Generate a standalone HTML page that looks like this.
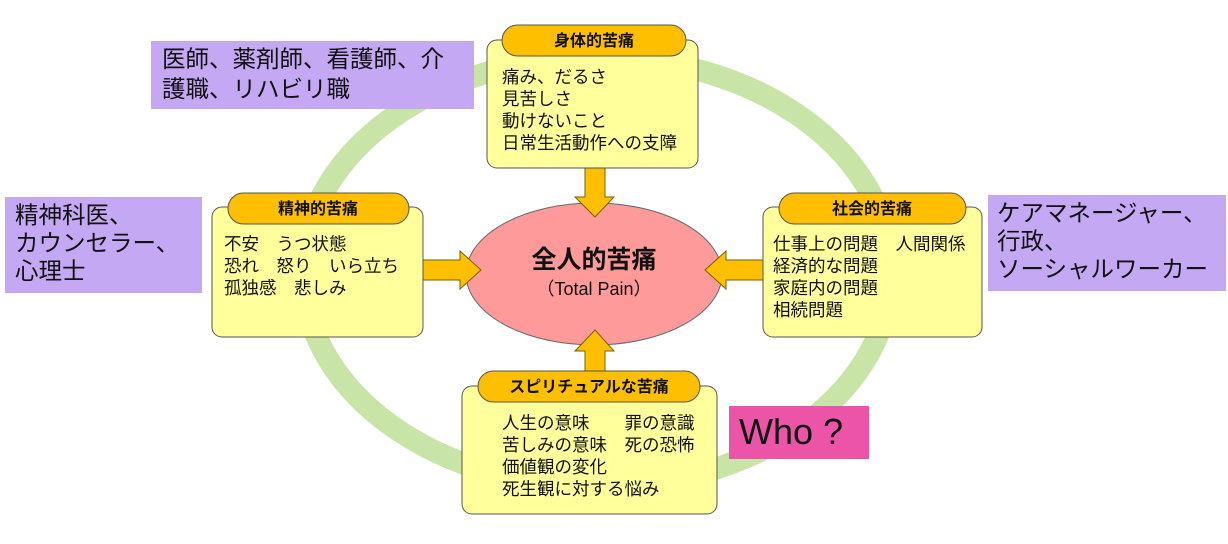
<!DOCTYPE html>
<html><head><meta charset="utf-8"><style>
html,body{margin:0;padding:0;background:#fff;}
svg{display:block;}
text{font-family:"Liberation Sans","Noto Sans CJK JP",sans-serif;fill:#111;}
.b{font-size:17.5px;}
.h{font-size:16px;font-weight:bold;}
.p{font-size:23.5px;}
</style></head><body>
<svg width="1228" height="544" viewBox="0 0 1228 544" xmlns="http://www.w3.org/2000/svg">
<ellipse cx="597" cy="272" rx="294" ry="215" fill="none" stroke="#c9e4a7" stroke-width="22"/>
<rect x="151" y="41" width="323" height="68" fill="#c4a8f4"/>
<text class="p" x="162" y="67">医師、薬剤師、看護師、介</text>
<text class="p" x="162" y="97">護職、リハビリ職</text>
<rect x="5" y="197" width="197" height="96" fill="#c4a8f4"/>
<text class="p" x="15" y="223">精神科医、</text>
<text class="p" x="15" y="251">カウンセラー、</text>
<text class="p" x="15" y="279">心理士</text>
<rect x="988" y="195" width="238" height="96" fill="#c4a8f4"/>
<text class="p" x="997" y="221">ケアマネージャー、</text>
<text class="p" x="997" y="249">行政、</text>
<text class="p" x="997" y="277">ソーシャルワーカー</text>
<rect x="729" y="406" width="140" height="53" fill="#ec54a8"/>
<text x="739" y="444" style="font-size:36px;font-weight:300;">Who ?</text>
<ellipse cx="594" cy="274" rx="128" ry="71" fill="#fe9a9a" stroke="#666" stroke-width="1"/>
<text x="594" y="268" text-anchor="middle" style="font-size:25px;font-weight:bold;">全人的苦痛</text>
<text x="594" y="295" text-anchor="middle" style="font-size:18px;">（Total Pain）</text>
<g fill="#fdbf00" stroke="#7a6000" stroke-width="1">
<polygon points="585,168 605,168 605,197 614,197 595,217 575,197 585,197"/>
<polygon points="423,260 460,260 460,251 481,270 460,289 460,280 423,280"/>
<polygon points="763,260 726,260 726,251 705,270 726,289 726,280 763,280"/>
<polygon points="585,386 605,386 605,351 614,351 595,330 575,351 585,351"/>
</g>
<g fill="#ffff9c" stroke="#555" stroke-width="1">
<rect x="487" y="40" width="211" height="128" rx="10"/>
<rect x="212" y="207" width="211" height="130" rx="10"/>
<rect x="763" y="207" width="219" height="130" rx="10"/>
<rect x="462" y="386" width="255" height="128" rx="10"/>
</g>
<g fill="#fdbf00" stroke="#555" stroke-width="1">
<rect x="502" y="25" width="184" height="31" rx="15.5"/>
<rect x="228" y="193" width="181" height="31" rx="15.5"/>
<rect x="779" y="193" width="187" height="31" rx="15.5"/>
<rect x="478" y="371" width="222" height="31" rx="15.5"/>
</g>
<text class="h" x="594" y="46" text-anchor="middle">身体的苦痛</text>
<text class="h" x="318" y="214" text-anchor="middle">精神的苦痛</text>
<text class="h" x="872" y="214" text-anchor="middle">社会的苦痛</text>
<text class="h" x="589" y="392" text-anchor="middle">スピリチュアルな苦痛</text>
<text class="b" x="502" y="83">痛み、だるさ</text>
<text class="b" x="502" y="105">見苦しさ</text>
<text class="b" x="502" y="127">動けないこと</text>
<text class="b" x="502" y="149">日常生活動作への支障</text>
<text class="b" x="224" y="250">不安　うつ状態</text>
<text class="b" x="224" y="272">恐れ　怒り　いら立ち</text>
<text class="b" x="224" y="294">孤独感　悲しみ</text>
<text class="b" x="773" y="250">仕事上の問題　人間関係</text>
<text class="b" x="773" y="272">経済的な問題</text>
<text class="b" x="773" y="294">家庭内の問題</text>
<text class="b" x="773" y="316">相続問題</text>
<text class="b" x="502" y="429">人生の意味　　罪の意識</text>
<text class="b" x="502" y="451">苦しみの意味　死の恐怖</text>
<text class="b" x="502" y="473">価値観の変化</text>
<text class="b" x="502" y="495">死生観に対する悩み</text>
</svg>
</body></html>
